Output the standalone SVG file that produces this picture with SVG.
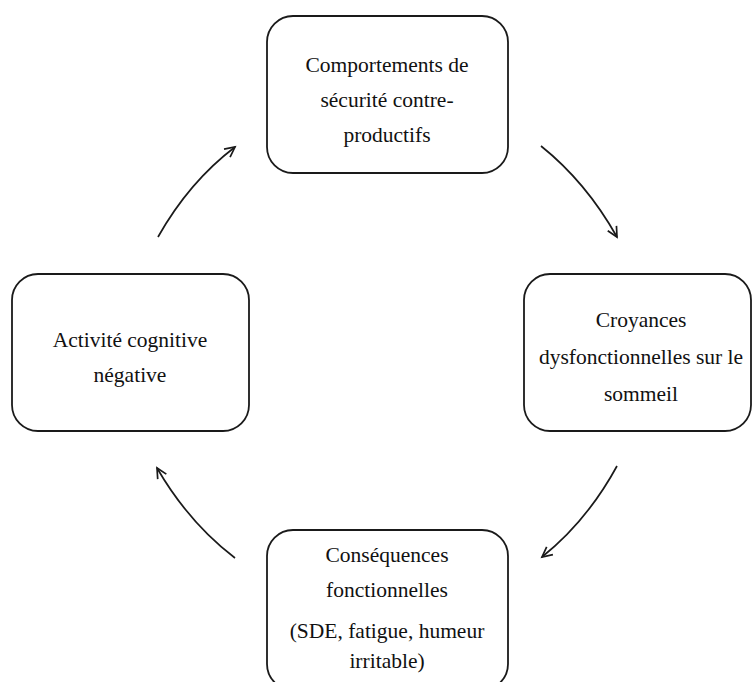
<svg xmlns="http://www.w3.org/2000/svg" width="753" height="682" viewBox="0 0 753 682">
<style>
.box{fill:#fff;stroke:#1a1a1a;stroke-width:1.8}
.t{font-family:"Liberation Serif","Times New Roman",serif;font-size:21.5px;fill:#111;text-anchor:middle}
.c{fill:none;stroke:#1a1a1a;stroke-width:1.7}
</style>
<defs>
<marker id="ah" markerUnits="userSpaceOnUse" markerWidth="14" markerHeight="14" refX="11" refY="6" orient="auto" viewBox="0 0 14 12">
<path d="M1,1 L11,6 L1,11" fill="none" stroke="#1a1a1a" stroke-width="1.7"/>
</marker>
</defs>
<rect width="753" height="682" fill="#fff"/>
<g id="n1">
<rect class="box" x="267" y="16" width="241" height="157" rx="26"/>
<text class="t" x="387" y="72">Comportements de</text>
<text class="t" x="387" y="107">sécurité contre-</text>
<text class="t" x="387" y="142">productifs</text>
</g>
<g id="n2">
<rect class="box" x="524" y="274" width="227" height="157" rx="26"/>
<text class="t" x="641" y="327">Croyances</text>
<text class="t" x="641" y="364">dysfonctionnelles sur le</text>
<text class="t" x="641" y="401">sommeil</text>
</g>
<g id="n3">
<rect class="box" x="267" y="530" width="241" height="160" rx="26"/>
<text class="t" x="387" y="562">Conséquences</text>
<text class="t" x="387" y="597">fonctionnelles</text>
<text class="t" x="387" y="638">(SDE, fatigue, humeur</text>
<text class="t" x="387" y="668">irritable)</text>
</g>
<g id="n4">
<rect class="box" x="12" y="274" width="237" height="157" rx="26"/>
<text class="t" x="130" y="347">Activité cognitive</text>
<text class="t" x="130" y="382">négative</text>
</g>
<g id="connectors">
<path class="c" d="M158,237 Q189,182 235,147" marker-end="url(#ah)"/>
<path class="c" d="M541,146 Q586,182 617,237" marker-end="url(#ah)"/>
<path class="c" d="M617,466 Q587,521 542,557" marker-end="url(#ah)"/>
<path class="c" d="M235,558 Q189,523 157,468" marker-end="url(#ah)"/>
</g>
</svg>
